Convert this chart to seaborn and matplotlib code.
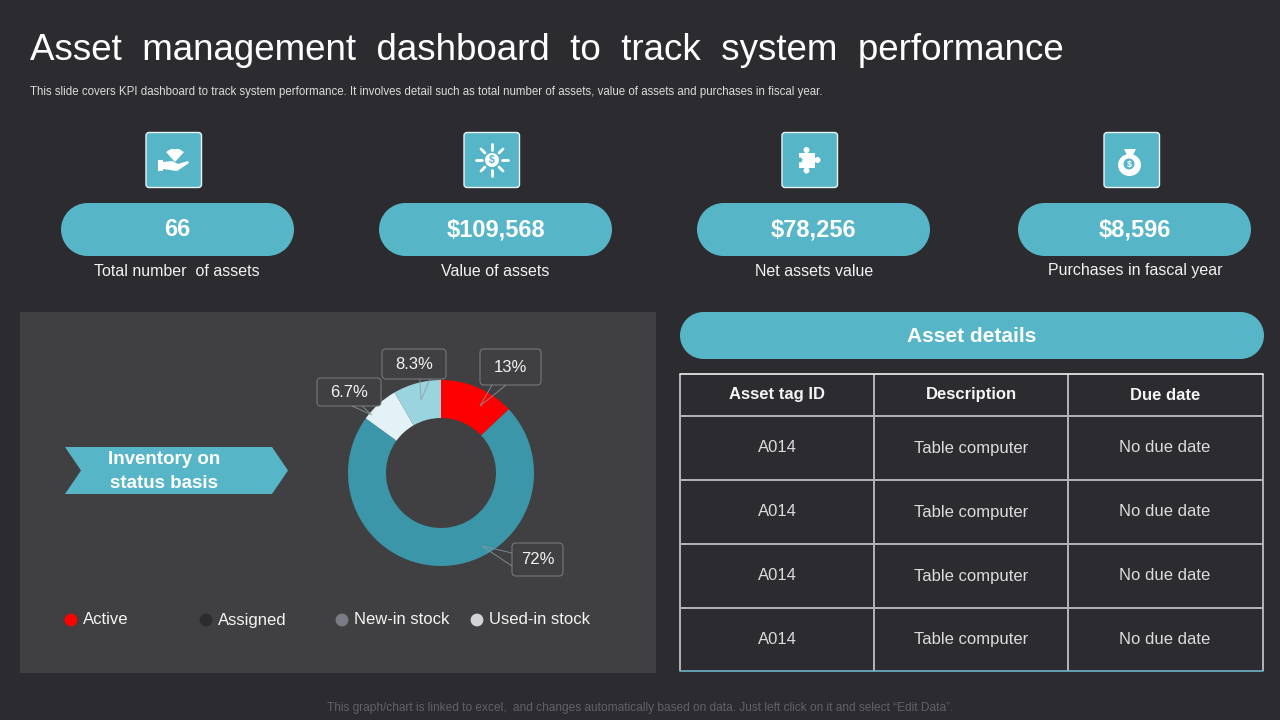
import matplotlib.pyplot as plt
from matplotlib.patches import FancyBboxPatch, Polygon, Circle, Wedge, Rectangle, Ellipse
import seaborn as sns

# colours
bg = '#2b2b30'
panel = '#404042'
teal = '#56b5c6'
white = '#ffffff'

# KPI row
kpi_values = ['66', '$109,568', '$78,256', '$8,596']
kpi_names = ['Total number  of assets', 'Value of assets', 'Net assets value', 'Purchases in fascal year']

# doughnut
status_names = ['Active', 'Assigned', 'New-in stock', 'Used-in stock']
status_share = [13, 72, 6.7, 8.3]
share_labels = ['13%', '72%', '6.7%', '8.3%']
slice_colors = ['#ff0000', '#3a96a8', '#e3f2f6', '#9ad4df']
legend_colors = ['#ff0000', '#2b2b30', '#7b7b86', '#d4d4d6']

# table
table_head = ['Asset tag ID', 'Description', 'Due date']
asset_ids = ['A014', 'A014', 'A014', 'A014']
asset_desc = ['Table computer', 'Table computer', 'Table computer', 'Table computer']
asset_due = ['No due date', 'No due date', 'No due date', 'No due date']

sns.set_theme(style='white')
plt.rcParams['font.family'] = ['Liberation Sans', 'DejaVu Sans']

fig = plt.figure(figsize=(12.8, 7.2), dpi=100, facecolor=bg)


def pixel_axes(z):
    a = fig.add_axes([0, 0, 1, 1], zorder=z)
    a.set_xlim(0, 1280)
    a.set_ylim(720, 0)
    a.axis('off')
    return a


ax = pixel_axes(0)
top = pixel_axes(2)


def pill(a, x0, y0, x1, y1, color=teal):
    r = (y1 - y0) / 2
    a.add_patch(FancyBboxPatch((x0 + r, y0 + 0.01), x1 - x0 - 2 * r, y1 - y0 - 0.02,
                               boxstyle=f'round,pad=0,rounding_size={r}', fc=color, ec='none',
                               mutation_aspect=1))
    a.add_patch(Circle((x0 + r, (y0 + y1) / 2), r, fc=color, ec='none'))
    a.add_patch(Circle((x1 - r, (y0 + y1) / 2), r, fc=color, ec='none'))
    a.add_patch(Rectangle((x0 + r, y0), x1 - x0 - 2 * r, y1 - y0, fc=color, ec='none'))


def rbox(a, x0, y0, x1, y1, r, **kw):
    a.add_patch(FancyBboxPatch((x0 + r, y0 + r), x1 - x0 - 2 * r, y1 - y0 - 2 * r,
                               boxstyle=f'round,pad={r},rounding_size={r}', **kw))


# title block
ax.text(30, 51, 'Asset  management  dashboard  to  track  system  performance', color=white,
        fontsize=26.5, ha='left', va='center')
ax.text(30, 92, 'This slide covers KPI dashboard to track system performance. It involves detail such as '
        'total number of assets, value of assets and purchases in fiscal year.',
        color='#dcdcdc', fontsize=8.3, ha='left', va='center')

# KPI cards
pill_x = [(61, 294), (379, 612), (697, 930), (1018, 1251)]
icon_x = [146, 464, 782, 1104]
name_x = [177, 495, 814, 1135]
for i in range(4):
    pill(ax, pill_x[i][0], 203, pill_x[i][1], 256)
    ax.text(sum(pill_x[i]) / 2, 230, kpi_values[i], color=white, fontsize=17, fontweight='bold',
            ha='center', va='center')
    ax.text(name_x[i], 271, kpi_names[i], color='#f2f2f2', fontsize=11.5, ha='center', va='center')
    rbox(ax, icon_x[i], 132.5, icon_x[i] + 55.5, 187.5, 3, fc=teal, ec='#e8f4f6', lw=1)

# icon 1: hand with diamond
ax.add_patch(Polygon([(166, 152), (171, 149), (179, 149), (184, 152), (175, 162)], fc=white, ec='none'))
ax.add_patch(Rectangle((158, 160), 5, 11, fc=white, ec='none'))
ax.add_patch(Polygon([(163, 162), (172, 161), (178, 164), (188, 161), (189, 163), (177, 171), (170, 170), (163, 169)],
                     fc=white, ec='none'))
# icon 2: sun with dollar
ax.add_patch(Circle((492, 160), 7, fc=white, ec='none'))
ax.text(492, 160.5, '$', color=teal, fontsize=7.5, fontweight='bold', ha='center', va='center')
for a, b, c, d in [(492, 144, 492, 150), (492, 170, 492, 176), (476, 160, 482, 160), (502, 160, 508, 160),
                   (481, 149, 485, 153), (499, 167, 503, 171), (503, 149, 499, 153), (485, 167, 481, 171)]:
    ax.plot([a, c], [b, d], color=white, lw=2, solid_capstyle='round')
# icon 3: puzzle piece
ax.add_patch(Rectangle((799, 153), 16, 15, fc=white, ec='none'))
for cx, cy, r in [(806.5, 150, 3), (806.5, 170.5, 3), (817.5, 160, 3)]:
    ax.add_patch(Circle((cx, cy), r, fc=white, ec='none'))
ax.add_patch(Circle((800, 160), 2.5, fc=teal, ec='none'))
# icon 4: money bag
ax.add_patch(Ellipse((1129.5, 165), 23, 22, fc=white, ec='none'))
ax.add_patch(Polygon([(1124, 149), (1136, 149), (1133, 155), (1127, 155)], fc=white, ec='none'))
ax.add_patch(Circle((1129, 164), 5.5, fc=teal, ec='none'))
ax.text(1129, 164.5, '$', color=white, fontsize=6.5, fontweight='bold', ha='center', va='center')

# inventory panel
ax.add_patch(Rectangle((20, 312), 636, 361, fc=panel, ec='none'))
ax.add_patch(Polygon([(65, 447), (272, 447), (288, 470.5), (272, 494), (65, 494), (81, 470.5)], fc=teal, ec='none'))
ax.text(164, 460, 'Inventory on', color=white, fontsize=13.5, fontweight='bold', ha='center', va='center')
ax.text(164, 483, 'status basis', color=white, fontsize=13.5, fontweight='bold', ha='center', va='center')

# doughnut
pie_ax = fig.add_axes([348 / 1280, (720 - 566) / 720, 186 / 1280, 186 / 720], zorder=1)
pie_ax.pie(status_share, colors=slice_colors, startangle=90, counterclock=False,
           wedgeprops={'width': 38 / 93, 'linewidth': 0})
pie_ax.set_xlim(-1, 1)
pie_ax.set_ylim(-1, 1)
pie_ax.patch.set_alpha(0)

# callouts, same order as status_share
call_box = [(480, 349, 541, 385), (512, 543, 563, 576), (317, 378, 381, 406), (382, 349, 446, 379)]
call_line = [[(492, 385), (480, 406), (506, 385)], [(512, 553), (482, 546), (512, 566)],
             [(352, 406), (372, 415), (362, 406)], [(420, 379), (421, 400), (430, 379)]]
for box, line, lab in zip(call_box, call_line, share_labels):
    rbox(top, box[0], box[1], box[2], box[3], 4, fc=panel, ec='#77777b', lw=0.8)
    top.add_patch(Polygon(line, closed=False, fc='none', ec='#8a9a9f', lw=0.7, alpha=0.8))
    top.text((box[0] + box[2]) / 2, (box[1] + box[3]) / 2 + 0.5, lab, color='#f2f2f2', fontsize=12,
             ha='center', va='center')

# legend
legend_x = [71, 206, 342, 477]
sns.scatterplot(x=legend_x, y=[620] * 4, hue=status_names, palette=legend_colors, s=85, linewidth=0,
                legend=False, ax=top)
top.set_xlim(0, 1280)
top.set_ylim(720, 0)
top.axis('off')
for x, name in zip(legend_x, status_names):
    ax.text(x + 12, 620, name, color='#f4f4f4', fontsize=12, ha='left', va='center')

# asset details
pill(ax, 680, 312, 1264, 359)
ax.text(972, 336, 'Asset details', color=white, fontsize=15, fontweight='bold', ha='center', va='center')

col_edges = [680, 874, 1068, 1263]
row_edges = [374, 416, 480, 544, 608, 671]
col_mid = [777, 971, 1165]
for x in col_edges:
    ax.plot([x, x], [row_edges[0], row_edges[-1]], color='#b4b4b8', lw=1.4, solid_capstyle='butt')
for y in row_edges[1:-1]:
    ax.plot([col_edges[0], col_edges[-1]], [y, y], color='#b4b4b8', lw=1.4, solid_capstyle='butt')
ax.plot([col_edges[0], col_edges[-1]], [374, 374], color='#f0f0f0', lw=1.2)
ax.plot([col_edges[0], col_edges[-1]], [671, 671], color='#6fb4c4', lw=1.2)
for x, head in zip(col_mid, table_head):
    ax.text(x, 395, head, color='#f4f4f4', fontsize=12, fontweight='bold', ha='center', va='center')
for r in range(4):
    y = (row_edges[r + 1] + row_edges[r + 2]) / 2
    for x, col in zip(col_mid, [asset_ids, asset_desc, asset_due]):
        ax.text(x, y, col[r], color='#dcdcdc', fontsize=12, ha='center', va='center')

# footer
ax.text(640, 708, 'This graph/chart is linked to excel,  and changes automatically based on data. '
        'Just left click on it and select \u201cEdit Data\u201d.', color='#626266', fontsize=8.6,
        ha='center', va='center')

plt.savefig('out.png', dpi=100, facecolor=bg)
